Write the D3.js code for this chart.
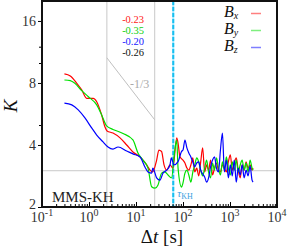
<!DOCTYPE html>
<html>
<head>
<meta charset="utf-8">
<script src="https://cdn.jsdelivr.net/npm/d3@7"></script>
<style>
body { margin: 0; background: #fff; }
text { font-family: "Liberation Serif", "DejaVu Serif", serif; }
</style>
</head>
<body>
<div id="viz"></div>
<script>
// smooth part of the curves (lag in s, kurtosis)
var bxLags = [0.30, 0.40, 0.55, 0.70, 0.89, 1.23, 1.46, 1.86, 2.19, 2.42, 3.24, 4.57, 6.34, 8.6, 12.2, 16.9, 19.9, 22.6, 27.5, 30.7, 35, 39.5, 45, 52.8, 61, 73.5, 78.5, 86];
var bxKurt = [8.85, 8.65, 7.97, 7.40, 6.74, 6.74, 6.49, 5.59, 4.89, 4.68, 4.57, 4.33, 4.00, 3.70, 3.50, 3.20, 3.02, 2.96, 3.38, 3.78, 3.72, 3.20, 3.02, 3.20, 3.09, 4.33, 4.09, 3.51];
var byLags = [0.30, 0.40, 0.50, 0.70, 0.97, 1.46, 1.86, 2.37, 3.24, 5.3, 8.6, 11.0, 14.0, 18.0, 21.5, 25.4, 29.4, 35, 41, 48, 57, 67, 73.5, 78.5, 93];
var byKurt = [8.27, 8.21, 7.97, 7.34, 6.86, 6.26, 5.59, 4.95, 4.76, 4.55, 4.23, 3.66, 3.38, 3.09, 2.51, 2.47, 2.56, 2.92, 2.96, 2.86, 2.77, 3.78, 4.23, 3.09, 2.50];
var bzLags = [0.30, 0.43, 0.59, 0.82, 1.14, 1.46, 1.99, 2.54, 3.24, 4.15, 6.34, 8.6, 12.2, 15.5, 18.0, 21.5, 22.8, 27.5, 32.4, 37.5, 45, 52.8, 56.5, 64, 78.5, 93];
var bzKurt = [6.38, 6.26, 5.92, 5.41, 4.84, 4.47, 4.14, 3.91, 3.82, 3.91, 3.74, 3.62, 3.50, 3.13, 2.96, 2.92, 3.09, 2.77, 2.70, 2.92, 3.02, 3.20, 3.46, 3.20, 3.32, 3.72];

// noisy tail, shared lags
var tailLags = [100, 110, 121, 133, 147, 162, 178, 196, 216, 238, 262, 289, 318, 350, 386, 425, 468, 516, 568, 626, 690, 760, 837, 922, 1016, 1119, 1233, 1358, 1496, 1648, 1816, 2000, 2204, 2428, 2675, 2947, 3100];
var bxTail = [3.38, 3.27, 3.09, 3.02, 3.20, 3.46, 2.96, 3.09, 2.83, 3.31, 3.87, 2.96, 3.20, 3.02, 3.38, 2.86, 3.09, 3.27, 3.02, 2.96, 3.20, 3.09, 2.96, 3.31, 3.58, 3.02, 3.27, 3.46, 3.02, 2.77, 3.20, 3.02, 3.31, 3.09, 3.20, 3.02, 3.09];
var byTail = [2.62, 2.92, 3.02, 2.86, 2.64, 2.96, 3.20, 3.46, 3.31, 3.02, 2.83, 3.09, 3.38, 2.96, 2.77, 3.27, 3.02, 3.46, 3.09, 2.86, 3.31, 3.02, 3.50, 3.09, 2.86, 3.31, 3.02, 3.38, 2.96, 3.20, 3.38, 3.02, 3.27, 2.96, 3.38, 3.09, 3.02];
var bzTail = [3.78, 4.23, 3.87, 3.66, 3.50, 3.31, 3.13, 3.27, 3.31, 3.02, 2.89, 2.80, 2.64, 2.77, 3.13, 3.38, 3.50, 3.09, 2.96, 3.78, 4.57, 2.96, 3.38, 2.77, 3.20, 2.83, 3.38, 2.64, 3.09, 2.86, 3.20, 2.77, 3.02, 2.83, 3.16, 2.70, 2.64];

var seriesNames = ['x', 'y', 'z'];
var seriesColors = ['#ff0000', '#00e000', '#0000ff'];
var slopeLabels = ['-0.23', '-0.35', '-0.20', '-0.26'];
var slopeColors = ['#ff2020', '#10d010', '#2020ff', '#111111'];

var xTicks = [0.1, 1, 10, 100, 1000, 10000];
var xExponents = ['-1', '0', '1', '2', '3', '4'];
var yTicks = [2, 4, 8, 16];
var yMinor = [5, 10, 12];
var fitRange = [2.4, 25];
var tauKH = 62;
var gaussK = 3;
var guideLine = [[2.4, 10.6], [25, 5.3]];

var W = 288, H = 249;
var padL = 42, padR = 277, padT = 1, padB = 207;

var svg = d3.select("#viz").append("svg")
    .attr("width", W)
    .attr("height", H);

svg.append("rect").attr("width", W).attr("height", H).attr("fill", "#fff");

var x = d3.scaleLog().domain([0.1, 10000]).range([padL, padR]);
var y = d3.scaleLog().base(2).domain([2, 20]).range([padB, padT]);

var plot = svg.append("g");

// grid / reference lines
plot.selectAll(".vgrid").data(fitRange).enter().append("line")
    .attr("x1", d => x(d)).attr("x2", d => x(d))
    .attr("y1", padT).attr("y2", padB)
    .attr("stroke", "#c8c8c8").attr("stroke-width", 1);

plot.append("line")
    .attr("x1", padL).attr("x2", padR)
    .attr("y1", y(gaussK)).attr("y2", y(gaussK))
    .attr("stroke", "#c8c8c8").attr("stroke-width", 1);

plot.append("line")
    .attr("x1", x(guideLine[0][0])).attr("y1", y(guideLine[0][1]))
    .attr("x2", x(guideLine[1][0])).attr("y2", y(guideLine[1][1]))
    .attr("stroke", "#c0c0c0").attr("stroke-width", 1);

plot.append("text")
    .attr("x", 130).attr("y", 88)
    .attr("font-size", 12).attr("fill", "#aaa")
    .text("-1/3");

// tau_KH marker
plot.append("line")
    .attr("x1", x(tauKH)).attr("x2", x(tauKH))
    .attr("y1", padT).attr("y2", padB)
    .attr("stroke", "#9fe8ff").attr("stroke-width", 2);
plot.append("line")
    .attr("x1", x(tauKH)).attr("x2", x(tauKH))
    .attr("y1", padT).attr("y2", padB)
    .attr("stroke", "#18bff0").attr("stroke-width", 2)
    .attr("stroke-dasharray", "4,2");

var tau = plot.append("text")
    .attr("x", x(tauKH) + 4).attr("y", 197)
    .attr("fill", "#3a9ee0").attr("font-size", 11);
tau.append("tspan").attr("font-style", "italic").text("τ");
tau.append("tspan").attr("font-size", 8).attr("dy", 2).text("KH");

// curves
var lags = [bxLags.concat(tailLags), byLags.concat(tailLags), bzLags.concat(tailLags)];
var kurts = [bxKurt.concat(bxTail), byKurt.concat(byTail), bzKurt.concat(bzTail)];

var line = d3.line()
    .x(d => x(d[0]))
    .y(d => y(d[1]))
    .curve(d3.curveMonotoneX);

seriesNames.forEach(function(name, i) {
  var pts = lags[i].map((t, j) => [t, kurts[i][j]]);
  plot.append("path")
      .datum(pts)
      .attr("fill", "none")
      .attr("stroke", seriesColors[i])
      .attr("stroke-width", 1.2)
      .attr("d", line);
});

// slope values
plot.selectAll(".slope").data(slopeLabels).enter().append("text")
    .attr("x", 144)
    .attr("y", (d, i) => 23 + i * 11)
    .attr("text-anchor", "end")
    .attr("font-size", 10.5)
    .attr("fill", (d, i) => slopeColors[i])
    .text(d => d);

// legend
seriesNames.forEach(function(name, i) {
  var ly = 17 + i * 17;
  var t = svg.append("text")
      .attr("x", 224).attr("y", ly)
      .attr("font-size", 16).attr("fill", "#111");
  t.append("tspan").attr("font-style", "italic").text("B");
  t.append("tspan").attr("font-style", "italic").attr("font-size", 10).attr("dy", 2).text(name);
  svg.append("line")
      .attr("x1", 251).attr("x2", 261)
      .attr("y1", ly - 3.5).attr("y2", ly - 3.5)
      .attr("stroke", seriesColors[i])
      .attr("stroke-opacity", 0.5)
      .attr("stroke-width", 1.5);
});

svg.append("text")
    .attr("x", 52).attr("y", 202)
    .attr("font-size", 15).attr("fill", "#222")
    .text("MMS-KH");

// axes
var xMinor = [];
[0.1, 1, 10, 100, 1000].forEach(function(dec) {
  for (var k = 2; k < 10; k++) xMinor.push(dec * k);
});

svg.append("g")
    .attr("transform", "translate(0," + padB + ")")
    .call(d3.axisBottom(x).tickValues(xMinor).tickSize(-3).tickFormat(""))
    .call(g => g.select(".domain").remove());

svg.append("g")
    .attr("transform", "translate(0," + padB + ")")
    .call(d3.axisBottom(x).tickValues(xTicks).tickSize(-5).tickFormat(""))
    .call(g => g.select(".domain").remove());

svg.append("g")
    .attr("transform", "translate(" + padL + ",0)")
    .call(d3.axisLeft(y).tickValues(yMinor).tickSize(3).tickFormat(""))
    .call(g => g.select(".domain").remove());

var yAxis = svg.append("g")
    .attr("transform", "translate(" + padL + ",0)")
    .call(d3.axisLeft(y).tickValues(yTicks).tickSize(4).tickPadding(2).tickFormat(d3.format("d")))
    .call(g => g.select(".domain").remove());
yAxis.selectAll("text")
    .attr("font-size", 14).attr("fill", "#333")
    .attr("dy", d => d === 2 ? "0.1em" : "0.32em");

svg.selectAll(".xlab").data(xTicks).enter().append("text")
    .attr("x", d => x(d))
    .attr("y", 222)
    .attr("text-anchor", "middle")
    .attr("font-size", 14).attr("fill", "#333")
    .each(function(d, i) {
      var t = d3.select(this);
      t.append("tspan").text("10");
      t.append("tspan").attr("font-size", 10).attr("dy", -6).text(xExponents[i]);
    });

svg.append("rect")
    .attr("x", padL).attr("y", padT)
    .attr("width", padR - padL).attr("height", padB - padT)
    .attr("fill", "none").attr("stroke", "#111").attr("stroke-width", 2);

// axis titles
var xt = svg.append("text")
    .attr("x", 162).attr("y", 243)
    .attr("text-anchor", "middle")
    .attr("font-size", 19).attr("fill", "#111");
xt.append("tspan").text("Δ");
xt.append("tspan").attr("font-style", "italic").text("t");
xt.append("tspan").text(" [s]");

svg.append("text")
    .attr("transform", "translate(17,106) rotate(-90)")
    .attr("text-anchor", "middle")
    .attr("font-size", 19).attr("font-style", "italic").attr("fill", "#111")
    .text("K");
</script>
</body>
</html>
